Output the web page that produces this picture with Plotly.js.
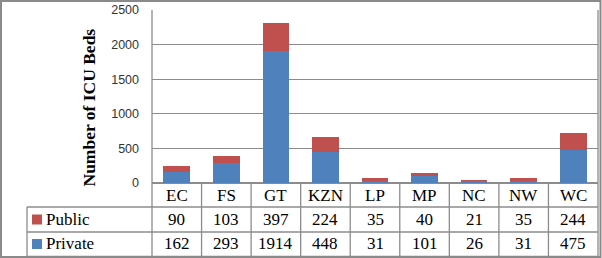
<!DOCTYPE html>
<html>
<head>
<meta charset="utf-8">
<script src="https://cdn.plot.ly/plotly-3.0.1.min.js"></script>
<style>html,body{margin:0;padding:0;background:#fff;}#chart{width:602px;height:258px;}</style>
</head>
<body>
<div id="chart"></div>
<script>
// ---- data ----
const categories = ["EC", "FS", "GT", "KZN", "LP", "MP", "NC", "NW", "WC"];
const publicBeds = [90, 103, 397, 224, 35, 40, 21, 35, 244];
const privateBeds = [162, 293, 1914, 448, 31, 101, 26, 31, 475];
const seriesNames = ["Public", "Private"];
const yTicks = [0, 500, 1000, 1500, 2000, 2500];
const yTitle = "Number of ICU Beds";

// ---- styling ----
const W = 602, H = 258;
const L = 152, R = 598, T = 10, B = 183;
const pw = R - L, ph = B - T;
const px2x = p => (p - L) / pw;
const py2y = p => (B - p) / ph;
const blue = "#4F81BD", red = "#C0504D";
const grid = "#8C8C8C";
const serif = "Liberation Serif, Times New Roman, serif";
const sans = "Liberation Sans, Arial, sans-serif";

const traces = [
  { type: "bar", name: seriesNames[1], x: categories, y: privateBeds, marker: { color: blue }, hoverinfo: "skip" },
  { type: "bar", name: seriesNames[0], x: categories, y: publicBeds, marker: { color: red }, hoverinfo: "skip" }
];

const rowMid = [195, 219.5, 244];
const rowLines = [207, 232, 256.5];
const tableLeft = 27;
const n = categories.length;

const shapes = [];
const lineStyle = { color: grid, width: 1.3 };
// outer border
shapes.push({ type: "rect", xref: "paper", yref: "paper", x0: px2x(1), x1: px2x(600.5), y0: py2y(1), y1: py2y(257), line: { color: "#8a8a8a", width: 2 } });
// left axis line full height
shapes.push({ type: "line", xref: "paper", yref: "paper", x0: 0, x1: 0, y0: 1, y1: py2y(rowLines[2]), line: lineStyle });
// right line
shapes.push({ type: "line", xref: "paper", yref: "paper", x0: 1, x1: 1, y0: 1, y1: py2y(rowLines[2]), line: lineStyle });
// horizontal table lines
rowLines.forEach(p => shapes.push({ type: "line", xref: "paper", yref: "paper", x0: px2x(tableLeft), x1: 1, y0: py2y(p), y1: py2y(p), line: lineStyle }));
// left edge of legend cells
shapes.push({ type: "line", xref: "paper", yref: "paper", x0: px2x(tableLeft), x1: px2x(tableLeft), y0: py2y(rowLines[0]), y1: py2y(rowLines[2]), line: lineStyle });
// vertical column separators
for (let i = 1; i < n; i++) {
  shapes.push({ type: "line", xref: "x", yref: "paper", x0: i - 0.5, x1: i - 0.5, y0: 0, y1: py2y(rowLines[2]), line: lineStyle });
}
// legend keys
const keyColors = [red, blue];
[rowMid[1], rowMid[2]].forEach((c, k) => {
  shapes.push({ type: "rect", xref: "paper", yref: "paper", x0: px2x(32), x1: px2x(42), y0: py2y(c - 5), y1: py2y(c + 5), fillcolor: keyColors[k], line: { width: 0 } });
});

const annotations = [];
const tfont = { family: serif, size: 17, color: "#000" };
categories.forEach((c, i) => {
  annotations.push({ x: c, xref: "x", y: py2y(rowMid[0]), yref: "paper", text: c, showarrow: false, font: tfont, xanchor: "center", yanchor: "middle" });
  annotations.push({ x: c, xref: "x", y: py2y(rowMid[1]), yref: "paper", text: String(publicBeds[i]), showarrow: false, font: tfont, xanchor: "center", yanchor: "middle" });
  annotations.push({ x: c, xref: "x", y: py2y(rowMid[2]), yref: "paper", text: String(privateBeds[i]), showarrow: false, font: tfont, xanchor: "center", yanchor: "middle" });
});
annotations.push({ x: px2x(44), xref: "paper", y: py2y(rowMid[1]), yref: "paper", text: seriesNames[0], showarrow: false, font: tfont, xanchor: "left", yanchor: "middle" });
annotations.push({ x: px2x(44), xref: "paper", y: py2y(rowMid[2]), yref: "paper", text: seriesNames[1], showarrow: false, font: tfont, xanchor: "left", yanchor: "middle" });
// y axis title
annotations.push({ x: px2x(88), xref: "paper", y: py2y(107.5), yref: "paper", text: "<b>" + yTitle + "</b>", textangle: -90, showarrow: false, font: { family: serif, size: 17.5, color: "#000" }, xanchor: "center", yanchor: "middle" });

const layout = {
  width: W, height: H,
  margin: { l: L, r: W - R, t: T, b: H - B, pad: 0 },
  paper_bgcolor: "#fff", plot_bgcolor: "#fff",
  barmode: "stack",
  bargap: 0.46,
  showlegend: false,
  xaxis: { type: "category", showticklabels: false, ticks: "", showgrid: false, zeroline: false, showline: false, range: [-0.5, n - 0.5], fixedrange: true },
  yaxis: { range: [0, 2500], tickvals: yTicks, ticktext: yTicks.map(String), showgrid: true, gridcolor: grid, gridwidth: 1.3, zeroline: true, zerolinecolor: grid, zerolinewidth: 1.3, showline: false, ticks: "", ticklabelstandoff: 12, tickfont: { family: sans, size: 12.5, color: "#333" }, fixedrange: true },
  shapes: shapes,
  annotations: annotations
};

Plotly.newPlot("chart", traces, layout, { displayModeBar: false, staticPlot: true });
</script>
</body>
</html>
